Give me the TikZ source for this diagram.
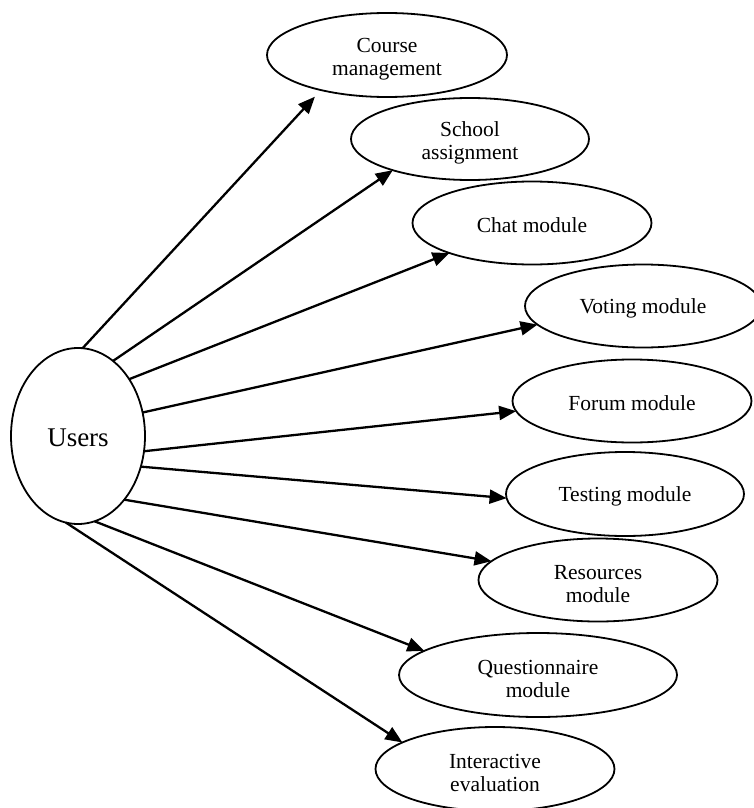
\documentclass[tikz,border=0pt]{standalone}
\usepackage{fontspec}
\setmainfont{Liberation Serif}
\usetikzlibrary{shapes.geometric,arrows.meta}
\newcommand{\lowtwo}{\rule{0pt}{23pt}}
\newcommand{\lowone}{\rule{0pt}{20pt}}
\tikzset{
  modbox/.style={ellipse, draw, line width=1.8pt, inner sep=0pt, outer sep=0pt,
    minimum width=239pt, minimum height=83pt, align=center,
    font=\fontsize{21.5}{23}\selectfont},
  userbox/.style={ellipse, draw, line width=1.8pt, inner sep=0pt, outer sep=0pt,
    minimum width=134pt, minimum height=176pt,
    font=\fontsize{27}{30}\selectfont},
  link/.style={line width=2.3pt, -{Triangle[length=17pt,width=14pt]}}
}
\begin{document}
\begin{tikzpicture}[x=1pt,y=-1pt]
\useasboundingbox (0,0) rectangle (753,808);
\node[userbox] (users) at (78,436) {\rule{0pt}{22pt}Users};
\node[modbox, minimum width=240pt, minimum height=84pt] (course) at (387,55) {\lowtwo Course\\management};
\node[modbox, minimum width=238pt, minimum height=82pt] (school) at (470,139) {\lowtwo School\\assignment};
\node[modbox] (chat) at (532,223) {\lowone Chat module};
\node[modbox, minimum width=236pt] (voting) at (643,306) {\lowone Voting module};
\node[modbox] (forum) at (632,401) {\lowone Forum module};
\node[modbox, minimum width=238pt, minimum height=84pt] (testing) at (625,494) {\lowone Testing module};
\node[modbox] (resources) at (598,580) {\lowtwo Resources\\module};
\node[modbox, minimum width=278pt, minimum height=84pt] (quest) at (538,675) {\lowtwo Questionnaire\\module};
\node[modbox, minimum height=84pt] (inter) at (495,769) {\lowtwo Interactive\\evaluation};

\draw[link, shorten >=9pt] (users.87.4) -- (course.208.7);
\draw[link] (users.65.3) -- (school.202.9);
\draw[link] (users.48.6) -- (chat.200.6);
\draw[link] (users.20.3) -- (voting.190.5);
\draw[link] (users.-13.4) -- (forum.185.3);
\draw[link] (users.-26.9) -- (testing.182.4);
\draw[link] (users.-54.3) -- (resources.170.7);
\draw[link] (users.-79.6) -- (quest.168.8);
\draw[link] (users.-98.5) -- (inter.164.1);
\end{tikzpicture}
\end{document}
